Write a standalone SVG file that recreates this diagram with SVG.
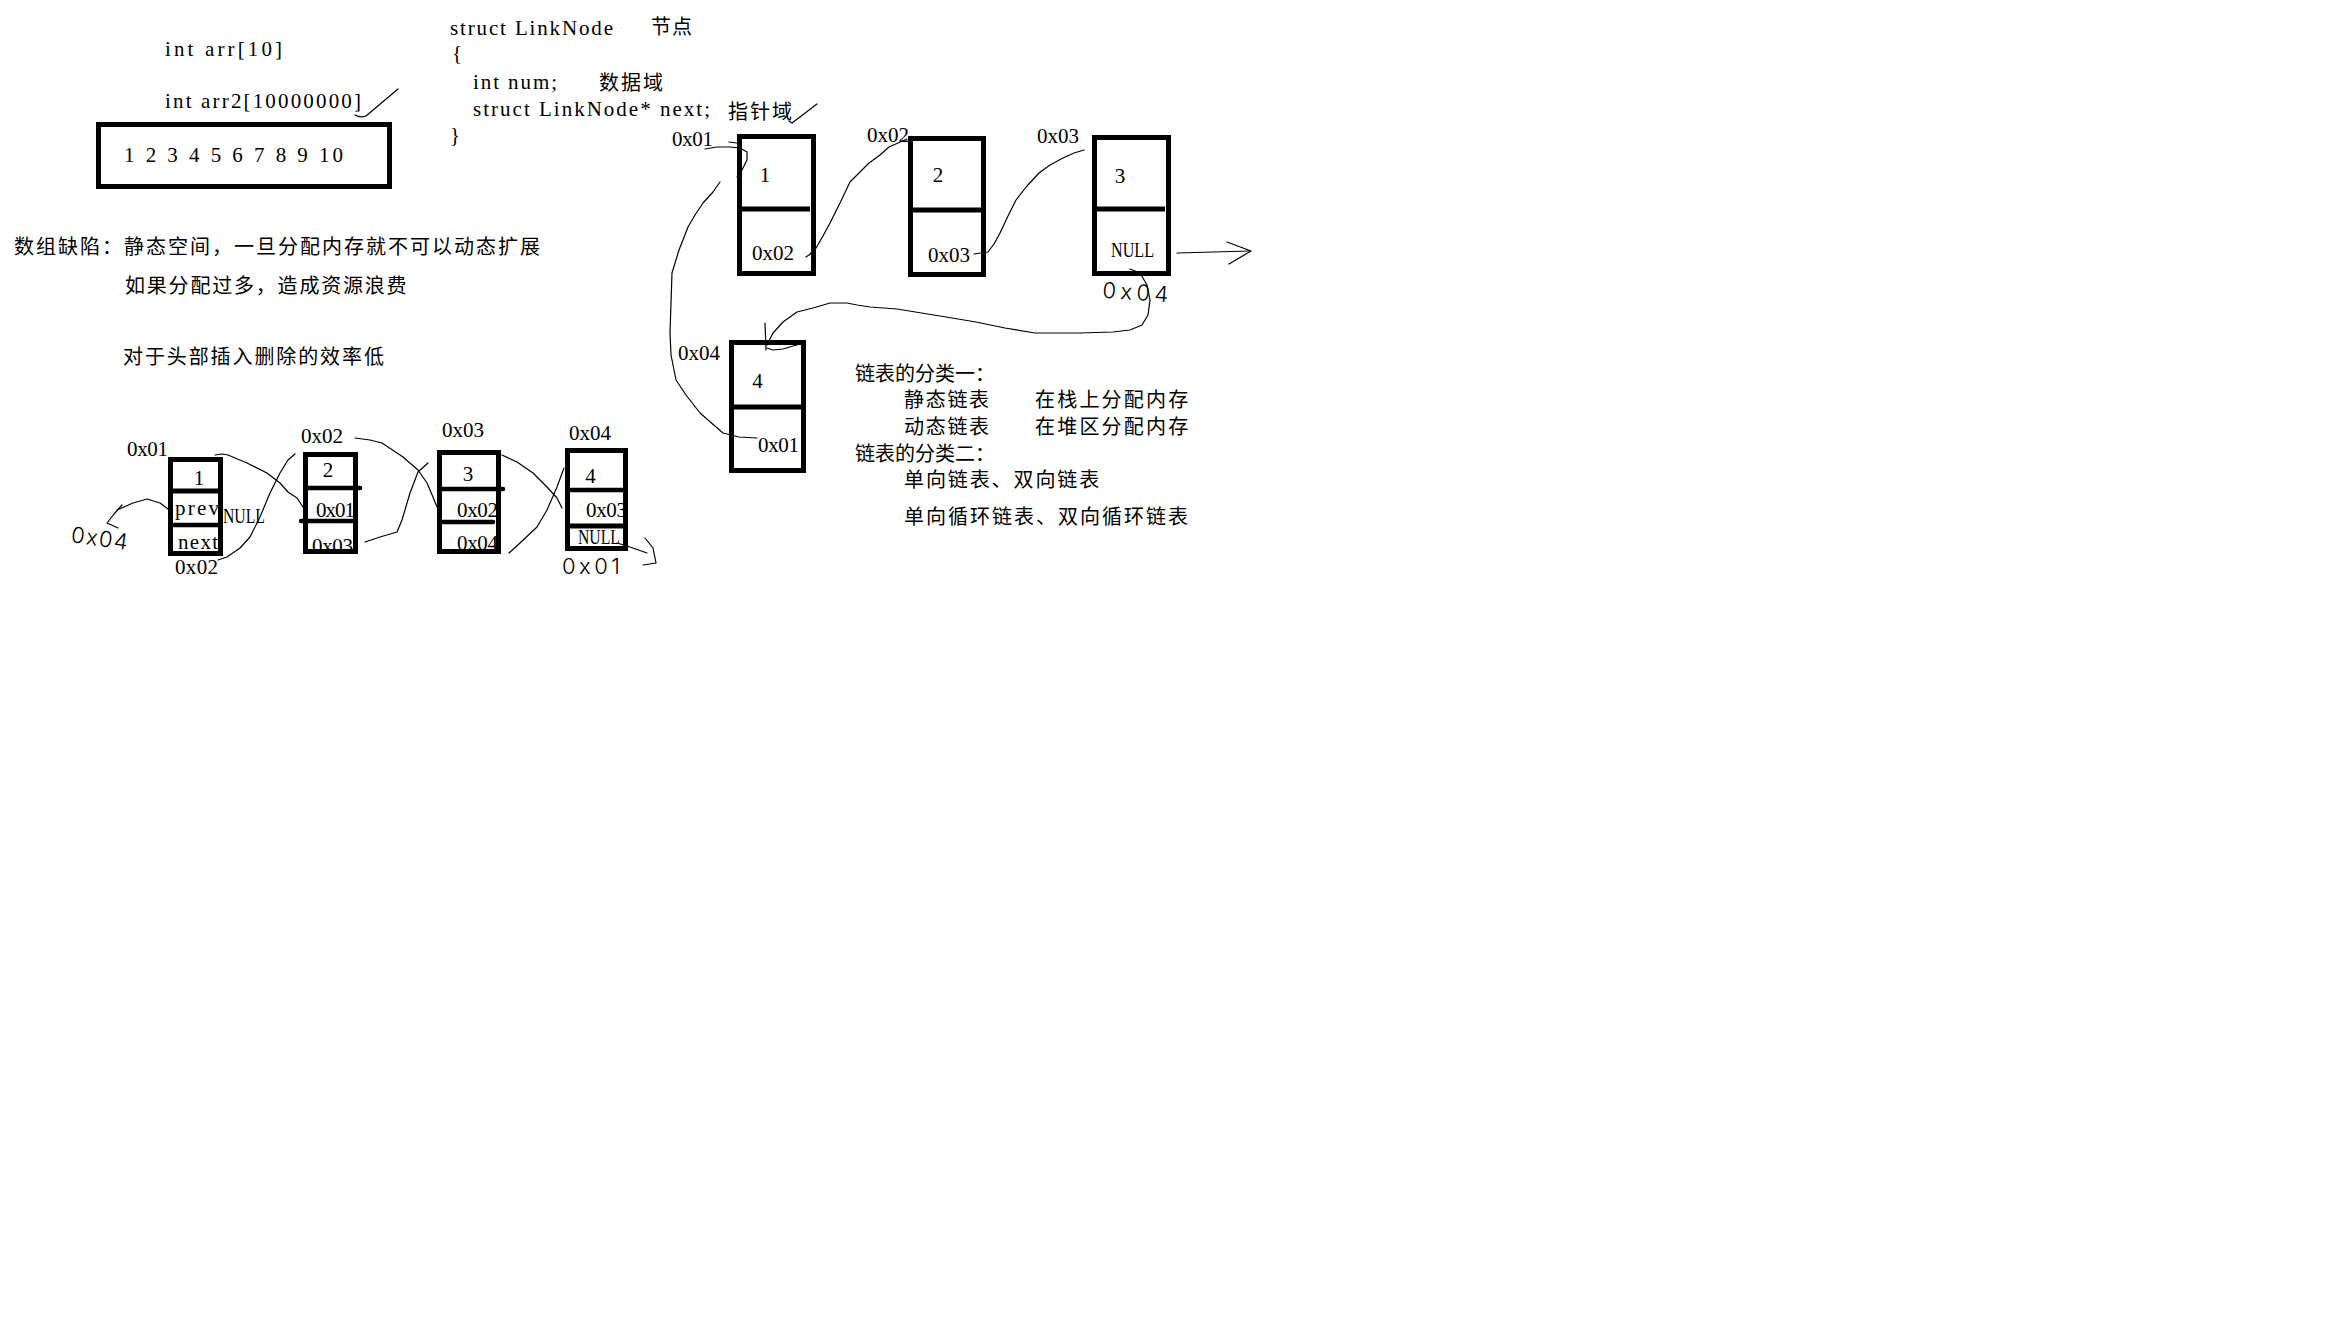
<svg xmlns="http://www.w3.org/2000/svg" width="2336" height="1324" viewBox="0 0 2336 1324">
<style>
.lat{font-family:"Liberation Serif",serif;font-size:21px;fill:#000}
.cjk{font-family:"Noto Sans CJK SC",sans-serif;font-size:20px;fill:#000}
.hand{font-family:Inter,"Open Sans",sans-serif;font-weight:300;font-size:22px;fill:#000}
.box{fill:none;stroke:#000;stroke-width:5}
.dv{stroke:#000;stroke-width:5;fill:none}
.dvr{stroke:#000;stroke-width:4.5;stroke-linecap:round;fill:none}
.wire{fill:none;stroke:#000;stroke-width:1.2;stroke-linejoin:round;stroke-linecap:round}
</style>
<rect width="2336" height="1324" fill="#fff"/>

<g id="array-notes">
<text class="lat" x="165" y="56" textLength="117">int arr[10]</text>
<text class="lat" x="165" y="108" textLength="196">int arr2[10000000]</text>
<path class="wire" d="M355 115 Q360 118 366 116 L398 89"/>
</g>

<g id="array-box">
<rect class="box" x="98.5" y="124.5" width="291" height="62"/>
<text class="lat" x="124" y="162" textLength="219">1 2 3 4 5 6 7 8 9 10</text>
</g>

<g id="struct-code">
<text class="lat" x="450" y="35" textLength="163">struct LinkNode</text>
<text class="cjk" x="651" y="33.5" letter-spacing="1">节点</text>
<text class="lat" x="452" y="60">{</text>
<text class="lat" x="473" y="89" textLength="84">int num;</text>
<text class="cjk" x="599" y="89.5" letter-spacing="2">数据域</text>
<text class="lat" x="473" y="116" textLength="237">struct LinkNode* next;</text>
<text class="cjk" x="728" y="118.5" letter-spacing="2">指针域</text>
<path class="wire" d="M789 121 L792 123 L817 104"/>
<text class="lat" x="450" y="142">}</text>
</g>

<g id="array-defects">
<text class="cjk" x="14" y="253.5" letter-spacing="2">数组缺陷：静态空间，一旦分配内存就不可以动态扩展</text>
<text class="cjk" x="125" y="292.5" letter-spacing="1.8">如果分配过多，造成资源浪费</text>
<text class="cjk" x="123" y="363.5" letter-spacing="1.9">对于头部插入删除的效率低</text>
</g>

<g id="classification">
<text class="cjk" x="855" y="380.5">链表的分类一：</text>
<text class="cjk" x="904" y="406.5" letter-spacing="1.7">静态链表</text>
<text class="cjk" x="1035" y="406.5" letter-spacing="2.2">在栈上分配内存</text>
<text class="cjk" x="904" y="433.5" letter-spacing="1.7">动态链表</text>
<text class="cjk" x="1035" y="433.5" letter-spacing="2.2">在堆区分配内存</text>
<text class="cjk" x="855" y="460.5">链表的分类二：</text>
<text class="cjk" x="904" y="486.5" letter-spacing="1.9">单向链表、双向链表</text>
<text class="cjk" x="904" y="523.5" letter-spacing="2">单向循环链表、双向循环链表</text>
</g>

<!-- singly linked list -->
<g id="node-s1">
<text class="lat" x="672" y="146" textLength="41">0x01</text>
<rect class="box" x="739.5" y="136.5" width="74" height="137"/>
<line class="dv" x1="740" y1="209" x2="810" y2="209"/>
<text class="lat" x="765" y="182" text-anchor="middle">1</text>
<text class="lat" x="752" y="260" textLength="42">0x02</text>
</g>
<g id="node-s2">
<text class="lat" x="867" y="142" textLength="42">0x02</text>
<rect class="box" x="910.5" y="138.5" width="73" height="136"/>
<line class="dv" x1="911" y1="210" x2="982" y2="210"/>
<text class="lat" x="938" y="182" text-anchor="middle">2</text>
<text class="lat" x="928" y="262" textLength="42">0x03</text>
</g>
<g id="node-s3">
<text class="lat" x="1037" y="143" textLength="42">0x03</text>
<rect class="box" x="1094.5" y="137.5" width="74" height="136"/>
<line class="dv" x1="1095" y1="209" x2="1165" y2="209"/>
<text class="lat" x="1120" y="183" text-anchor="middle">3</text>
<text class="lat" x="1111" y="257" textLength="43" lengthAdjust="spacingAndGlyphs">NULL</text>
<text class="hand" x="1102" y="300" textLength="66" transform="rotate(4 1135 300)">0x04</text>
</g>
<g id="node-s4">
<text class="lat" x="678" y="360" textLength="42">0x04</text>
<rect class="box" x="731.5" y="342.5" width="72" height="128"/>
<line class="dv" x1="732" y1="407" x2="803" y2="407"/>
<text class="lat" x="757.5" y="388" text-anchor="middle">4</text>
<text class="lat" x="758" y="452" textLength="41">0x01</text>
</g>

<!-- doubly linked list -->
<g id="node-d1">
<text class="lat" x="127" y="456" textLength="41">0x01</text>
<text class="lat" x="199" y="485" text-anchor="middle">1</text>
<text class="lat" x="175" y="515" textLength="44">prev</text>
<text class="lat" x="223" y="523" textLength="42" lengthAdjust="spacingAndGlyphs">NULL</text>
<text class="lat" x="178" y="549" textLength="40">next</text>
<text class="lat" x="175" y="574" textLength="43">0x02</text>
<rect class="box" x="170.5" y="459.5" width="50" height="94"/>
<line class="dv" x1="170" y1="491" x2="221" y2="491"/>
<line class="dvr" x1="174" y1="525" x2="218" y2="525"/>
<text class="hand" x="70" y="546" textLength="57" transform="rotate(8 98 546)">0x04</text>
</g>
<g id="node-d2">
<text class="lat" x="301" y="443" textLength="42">0x02</text>
<text class="lat" x="328" y="477" text-anchor="middle">2</text>
<text class="lat" x="316" y="517" textLength="39">0x01</text>
<text class="lat" x="312" y="553" textLength="41">0x03</text>
<rect class="box" x="305.5" y="454.5" width="50" height="97"/>
<line class="dvr" x1="306" y1="488" x2="360" y2="488"/>
<line class="dvr" x1="301" y1="521" x2="355" y2="521"/>
</g>
<g id="node-d3">
<text class="lat" x="442" y="437" textLength="42">0x03</text>
<text class="lat" x="468" y="481" text-anchor="middle">3</text>
<text class="lat" x="457" y="517" textLength="41">0x02</text>
<text class="lat" x="457" y="550" textLength="41">0x04</text>
<rect class="box" x="439.5" y="452.5" width="59" height="99"/>
<line class="dvr" x1="440" y1="489" x2="503" y2="489"/>
<line class="dvr" x1="441" y1="522" x2="493" y2="522"/>
</g>
<g id="node-d4">
<text class="lat" x="569" y="440" textLength="42">0x04</text>
<text class="lat" x="590.5" y="483" text-anchor="middle">4</text>
<text class="lat" x="586" y="517" textLength="41">0x03</text>
<text class="lat" x="578" y="544" textLength="42" lengthAdjust="spacingAndGlyphs">NULL</text>
<rect class="box" x="567.5" y="450.5" width="58" height="98"/>
<line class="dvr" x1="569" y1="490" x2="623" y2="490"/>
<line class="dv" x1="567" y1="526" x2="626" y2="526"/>
<text class="hand" x="562" y="574" textLength="58">0x01</text>
</g>

<g id="connectors">
<!-- singly list -->
<polyline class="wire" points="705,149 717,147 730,147 740,148 747,152 747,160 742,170 737,177"/>
<polyline class="wire" points="729,142 737,143"/>
<polyline class="wire" points="757,438 739,437 723,433 700,413 686,395 676,380 671,355 670,333 672,273 679,250 688,227 695,215 703,203 713,192 720,182"/>
<polyline class="wire" points="806,257 809,255 816,248 823,236 830,223 840,203 850,182 860,172 869,163 880,155 889,147 898,143 907,139"/>
<polyline class="wire" points="974,254 981,253 988,252 994,244 1000,233 1008,216 1016,200 1027,186 1039,173 1050,165 1063,158 1074,153 1084,150"/>
<polyline class="wire" points="1130,269 1140,273 1147,285 1150,300 1148,315 1142,325 1130,330 1113,332 1080,333 1035,333 1005,328 976,322 940,316 897,309 870,307 857,305 847,303 830,303 813,308 797,312 783,322 773,333 767,345"/>
<polyline class="wire" points="765,323 766,350"/>
<polyline class="wire" points="767,348 773,350 783,349 793,346 797,345"/>
<polyline class="wire" points="1177,253 1213,252 1250,251"/>
<polyline class="wire" points="1227,242 1251,251 1229,264"/>
<!-- doubly list -->
<polyline class="wire" points="168,509 160,503 147,499 133,503 117,510"/>
<polyline class="wire" points="122,505 114,514 107,523 118,528"/>
<polyline class="wire" points="215,455 222,454 228,455 247,463 267,473 280,483 288,492 297,498 303,507"/>
<polyline class="wire" points="218,560 227,557 240,548 250,537 260,517 270,493 280,473 288,460 295,454"/>
<polyline class="wire" points="355,438 370,440 382,443 403,457 418,470 427,483 433,497 437,507"/>
<polyline class="wire" points="365,542 380,537 397,532 402,520 410,493 418,472 428,463"/>
<polyline class="wire" points="502,455 517,462 533,473 547,487 557,498 562,508"/>
<polyline class="wire" points="509,553 520,543 537,527 547,510 557,487 564,468"/>
<polyline class="wire" points="617,543 627,546 647,553"/>
<polyline class="wire" points="645,538 653,548 656,563 643,565"/>
</g>
</svg>
